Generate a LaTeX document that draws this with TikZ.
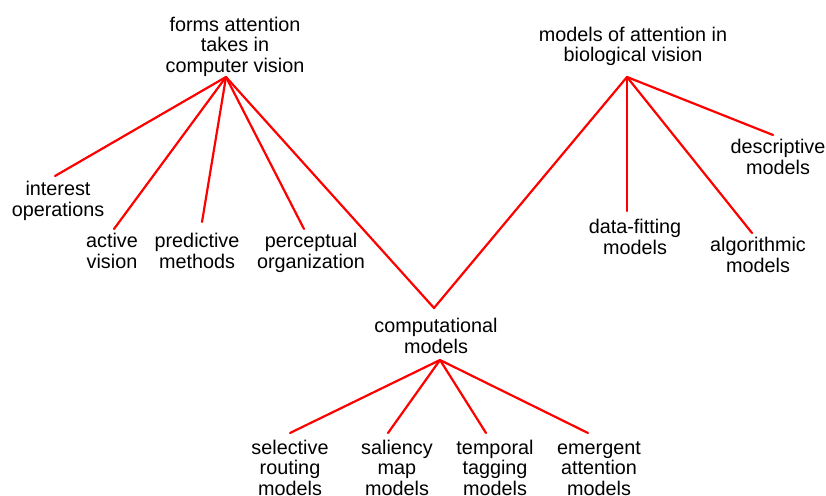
\documentclass[tikz,border=0pt]{standalone}
\usepackage{fontspec}
\setmainfont{Liberation Sans}
\begin{document}
\begin{tikzpicture}[x=1pt,y=-1pt,
  lbl/.style={anchor=base,align=center,inner sep=0pt,text=black,
    font=\fontsize{19.8}{20.3}\selectfont},
  link/.style={draw=red,line width=2.2pt,line cap=round,line join=round}]
\useasboundingbox[fill=white] (0,0) rectangle (826,495);

% top-level topics (placed by the baseline of their last line)
\node[lbl] (cv)  at (235,72) {forms attention\\takes in\\computer vision};
\node[lbl] (bio) at (633,62) {models of attention in\\biological vision};
\node[lbl] (comp) at (436,353) {computational\\models};

% computer vision branches
\node[lbl] (io)  at (58,216)  {interest\\operations};
\node[lbl] (av)  at (112,268) {active\\vision};
\node[lbl] (pm)  at (197,268) {predictive\\methods};
\node[lbl] (po)  at (311,268) {perceptual\\organization};

% biological vision branches
\node[lbl] (dm)  at (778,174) {descriptive\\models};
\node[lbl] (df)  at (635,254) {data-fitting\\models};
\node[lbl] (am)  at (758,272) {algorithmic\\models};

% computational model branches
\node[lbl] (sr)  at (290,495) {selective\\routing\\models};
\node[lbl] (sm)  at (397,495) {saliency\\map\\models};
\node[lbl] (tt)  at (495,495) {temporal\\tagging\\models};
\node[lbl] (ea)  at (599,495) {emergent\\attention\\models};

% hubs below / above the topic labels
\coordinate (cvhub)   at ([shift={(-9,5)}]cv.base);
\coordinate (biohub)  at ([shift={(-6,15)}]bio.base);
\coordinate (comptop) at ([shift={(-2,-45)}]comp.base);
\coordinate (compbot) at ([shift={(4,7)}]comp.base);

% connectors
\draw[link] (cvhub) -- ([shift={(-3,-40)}]io.base);
\draw[link] (cvhub) -- ([shift={(2,-39)}]av.base);
\draw[link] (cvhub) -- ([shift={(5,-46)}]pm.base);
\draw[link] (cvhub) -- ([shift={(-7,-39)}]po.base);
\draw[link] (cvhub) -- (comptop) -- (biohub);

\draw[link] (biohub) -- ([shift={(-5,-39)}]dm.base);
\draw[link] (biohub) -- ([shift={(-8,-43)}]df.base);
\draw[link] (biohub) -- ([shift={(-6,-39)}]am.base);

\draw[link] (compbot) -- ([shift={(0,-62)}]sr.base);
\draw[link] (compbot) -- ([shift={(-9,-62)}]sm.base);
\draw[link] (compbot) -- ([shift={(-9,-62)}]tt.base);
\draw[link] (compbot) -- ([shift={(-11,-62)}]ea.base);
\end{tikzpicture}
\end{document}
